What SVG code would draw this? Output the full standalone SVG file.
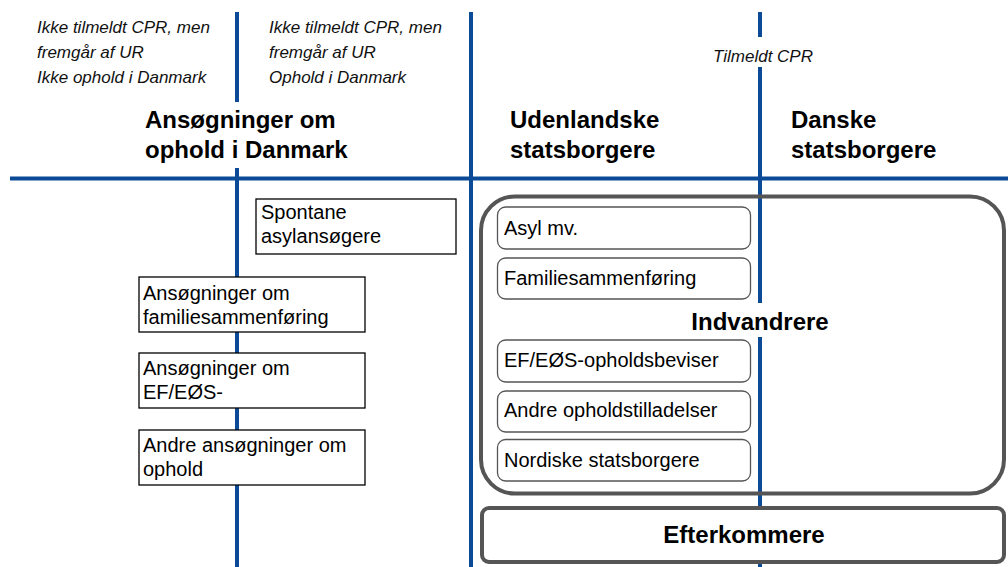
<svg xmlns="http://www.w3.org/2000/svg" width="1008" height="567" viewBox="0 0 1008 567">
<style>
.ln{stroke:#0b4a96;stroke-width:4;fill:none}
.it{font-family:"Liberation Sans",Arial,sans-serif;font-style:italic;font-size:17px;fill:#111}
.hd{font-family:"Liberation Sans",Arial,sans-serif;font-weight:bold;font-size:24px;fill:#000}
.tx{font-family:"Liberation Sans",Arial,sans-serif;font-size:20px;fill:#000}
.bx{fill:#fff;stroke:#000;stroke-width:1.3}
.rb{fill:#fff;stroke:#555;stroke-width:1.3}
.big{fill:none;stroke:#555;stroke-width:4}
</style>
<rect width="1008" height="567" fill="#fff"/>
<g id="labels">
<text class="it" x="37" y="32.5">Ikke tilmeldt CPR, men</text>
<text class="it" x="37" y="57.5">fremgår af UR</text>
<text class="it" x="37" y="82.5">Ikke ophold i Danmark</text>
<text class="it" x="269" y="32.5">Ikke tilmeldt CPR, men</text>
<text class="it" x="269" y="57.5">fremgår af UR</text>
<text class="it" x="269" y="82.5">Ophold i Danmark</text>
<text class="it" x="713" y="62">Tilmeldt CPR</text>
<text class="hd" x="145" y="128">Ansøgninger om</text>
<text class="hd" x="145" y="158">ophold i Danmark</text>
<text class="hd" x="510" y="128">Udenlandske</text>
<text class="hd" x="510" y="158">statsborgere</text>
<text class="hd" x="791" y="128">Danske</text>
<text class="hd" x="791" y="158">statsborgere</text>
</g>
<g id="connectors">
<line class="ln" x1="10" y1="178.5" x2="1008" y2="178.5" stroke-width="4.5"/>
<line class="ln" x1="237" y1="12" x2="237" y2="102"/>
<line class="ln" x1="237" y1="168" x2="237" y2="567"/>
<line class="ln" x1="471" y1="12" x2="471" y2="567"/>
<line class="ln" x1="760" y1="12" x2="760" y2="37"/>
<line class="ln" x1="760" y1="67" x2="760" y2="303"/>
<line class="ln" x1="760" y1="337" x2="760" y2="567"/>
</g>
<g id="spontane">
<rect class="bx" x="256" y="199" width="200" height="55"/>
<text class="tx" x="261" y="219">Spontane</text>
<text class="tx" x="261" y="243">asylansøgere</text>
</g>
<g id="ans-familie">
<rect class="bx" x="139" y="277" width="226" height="55"/>
<text class="tx" x="143" y="300">Ansøgninger om</text>
<text class="tx" x="143" y="324">familiesammenføring</text>
</g>
<g id="ans-efeos">
<rect class="bx" x="139" y="353" width="226" height="55"/>
<text class="tx" x="143" y="375">Ansøgninger om</text>
<text class="tx" x="143" y="399">EF/EØS-</text>
</g>
<g id="ans-andre">
<rect class="bx" x="139" y="430" width="226" height="55"/>
<text class="tx" x="143" y="452">Andre ansøgninger om</text>
<text class="tx" x="143" y="476">ophold</text>
</g>
<g id="indvandrere">
<rect x="481" y="196.5" width="523" height="297" rx="34" fill="none" stroke="#555" stroke-width="4"/>
<text class="hd" x="760" y="329.5" text-anchor="middle" font-size="23">Indvandrere</text>
</g>
<g id="asyl">
<rect class="rb" x="497.5" y="207" width="253" height="42" rx="8"/>
<text class="tx" x="504" y="235">Asyl mv.</text>
</g>
<g id="familie">
<rect class="rb" x="497.5" y="258" width="253" height="41" rx="8"/>
<text class="tx" x="504" y="285">Familiesammenføring</text>
</g>
<g id="efeos">
<rect class="rb" x="497.5" y="340" width="253" height="42" rx="8"/>
<text class="tx" x="504" y="367">EF/EØS-opholdsbeviser</text>
</g>
<g id="andre">
<rect class="rb" x="497.5" y="391" width="253" height="41" rx="8"/>
<text class="tx" x="504" y="417">Andre opholdstilladelser</text>
</g>
<g id="nordiske">
<rect class="rb" x="497.5" y="439.5" width="253" height="41.5" rx="8"/>
<text class="tx" x="504" y="467">Nordiske statsborgere</text>
</g>
<g id="efterkommere">
<rect x="482" y="508" width="522" height="54" rx="7" fill="#fff" stroke="#555" stroke-width="4"/>
<text class="hd" x="744" y="543" text-anchor="middle">Efterkommere</text>
</g>
</svg>
